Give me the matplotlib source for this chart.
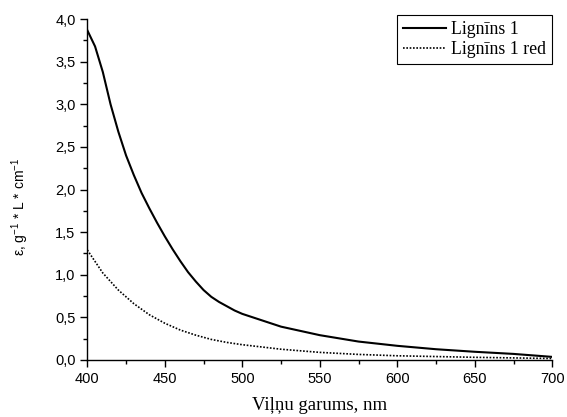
import matplotlib.pyplot as plt
from matplotlib.ticker import MultipleLocator, FuncFormatter

# wavelength, nm
wl = [400, 405, 410, 415, 420, 425, 430, 435, 440, 445, 450, 455, 460, 465,
      470, 475, 480, 485, 490, 495, 500, 525, 550, 575, 600, 625, 650, 675, 700]
# Lignins 1
lig1 = [3.87, 3.68, 3.38, 3.00, 2.68, 2.40, 2.17, 1.96, 1.78, 1.61, 1.45, 1.30,
        1.16, 1.03, 0.92, 0.82, 0.74, 0.68, 0.63, 0.58, 0.54, 0.39, 0.29, 0.215,
        0.165, 0.125, 0.095, 0.07, 0.035]
# Lignins 1 red
wl_red = [400, 410, 420, 430, 440, 450, 460, 470, 480, 490, 500, 525, 550, 575,
          600, 650, 700]
lig1_red = [1.29, 1.02, 0.82, 0.66, 0.53, 0.43, 0.35, 0.29, 0.24, 0.205, 0.178,
            0.125, 0.088, 0.064, 0.048, 0.03, 0.016]

fig = plt.figure(figsize=(5.67, 4.17), dpi=100)
ax = fig.add_axes([0.154, 0.137, 0.820, 0.817])

ax.plot(wl, lig1, color="black", lw=1.5, label="Lignīns 1")
ax.plot(wl_red, lig1_red, color="black", lw=1.2, ls=(0, (1, 1)), label="Lignīns 1 red")

ax.set_xlim(400, 700)
ax.set_ylim(0, 4.0)
ax.xaxis.set_major_locator(MultipleLocator(50))
ax.xaxis.set_minor_locator(MultipleLocator(25))
ax.yaxis.set_major_locator(MultipleLocator(0.5))
ax.yaxis.set_minor_locator(MultipleLocator(0.25))
ax.yaxis.set_major_formatter(FuncFormatter(lambda v, p: f"{v:.1f}".replace(".", ",")))

for s in ["top", "right"]:
    ax.spines[s].set_visible(False)
for s in ["left", "bottom"]:
    ax.spines[s].set_linewidth(1.0)
ax.tick_params(which="major", direction="out", length=5, width=1.0,
               labelsize=10.5, labelfontfamily="Liberation Sans")
ax.tick_params(which="minor", direction="out", length=3, width=1.0)

ax.set_xlabel("Viļņu garums, nm", family="Liberation Serif", fontsize=13.5, labelpad=8)
ax.set_ylabel(r"ε, g$^{\mathregular{-1}}$ * L * cm$^{\mathregular{-1}}$",
              family="Liberation Sans", fontsize=10)
ax.yaxis.set_label_coords(-0.122, 0.45)

leg = ax.legend(loc="upper right", bbox_to_anchor=(1.0, 1.012), fancybox=False,
                edgecolor="black", framealpha=1, handlelength=2.4,
                borderpad=0.35, labelspacing=0.15, handletextpad=0.3,
                borderaxespad=0.0,
                prop={"family": "Liberation Serif", "size": 12.8})
leg.get_frame().set_linewidth(0.8)

fig.savefig("out.png", dpi=100)
